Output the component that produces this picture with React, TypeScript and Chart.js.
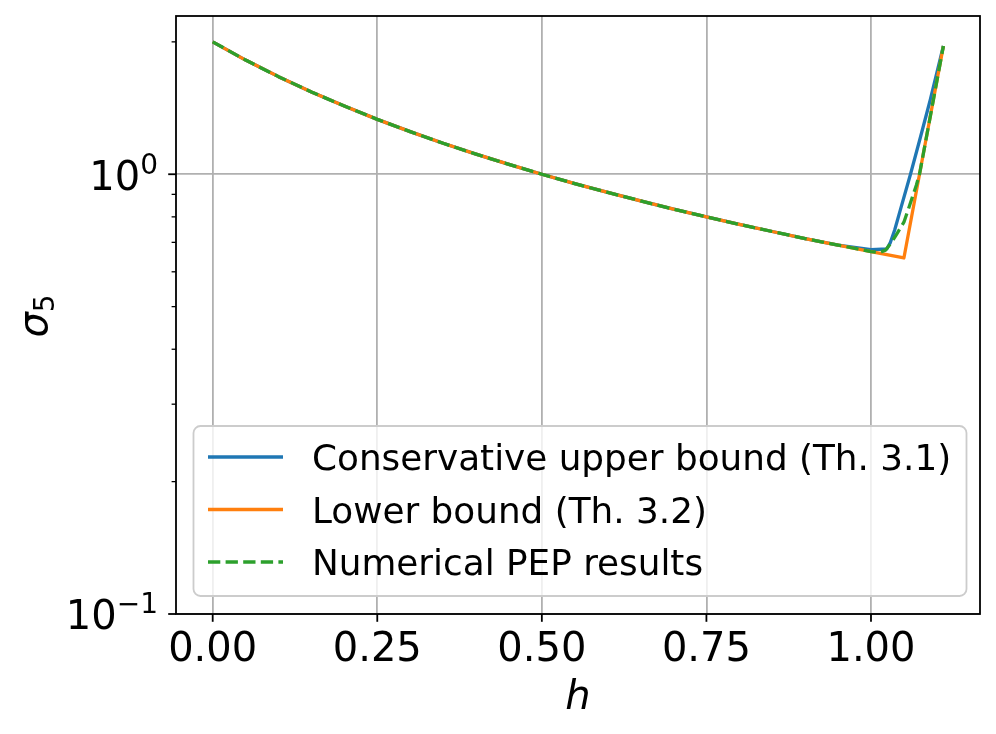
import React, { useEffect, useRef } from "react";
import { Chart, registerables } from "chart.js";

Chart.register(...registerables);

const FONT = '"DejaVu Sans", "Liberation Sans", sans-serif';

// ---- data ----
const hUpper = [0, 0.05, 0.1, 0.15, 0.2, 0.25, 0.3, 0.35, 0.4, 0.45, 0.5, 0.55, 0.6, 0.65, 0.7, 0.75, 0.8, 0.85, 0.9, 0.95, 1.0, 1.024, 1.029, 1.036, 1.046, 1.06, 1.075, 1.09, 1.11];
const sigmaUpper = [2.0, 1.818, 1.667, 1.538, 1.429, 1.333, 1.25, 1.176, 1.111, 1.053, 1.0, 0.952, 0.909, 0.87, 0.833, 0.8, 0.769, 0.741, 0.714, 0.69, 0.674, 0.676, 0.697, 0.747, 0.844, 1.0, 1.212, 1.475, 1.957];

const hLower = [0, 0.05, 0.1, 0.15, 0.2, 0.25, 0.3, 0.35, 0.4, 0.45, 0.5, 0.55, 0.6, 0.65, 0.7, 0.75, 0.8, 0.85, 0.9, 0.95, 1.0, 1.05, 1.11];
const sigmaLower = [2.0, 1.818, 1.667, 1.538, 1.429, 1.333, 1.25, 1.176, 1.111, 1.053, 1.0, 0.952, 0.909, 0.87, 0.833, 0.8, 0.769, 0.741, 0.714, 0.69, 0.667, 0.645, 1.957];

const hPep = [0, 0.05, 0.1, 0.15, 0.2, 0.25, 0.3, 0.35, 0.4, 0.45, 0.5, 0.55, 0.6, 0.65, 0.7, 0.75, 0.8, 0.85, 0.9, 0.95, 1.0, 1.013, 1.022, 1.032, 1.04, 1.05, 1.059, 1.069, 1.074, 1.09, 1.11];
const sigmaPep = [2.0, 1.818, 1.667, 1.538, 1.429, 1.333, 1.25, 1.176, 1.111, 1.053, 1.0, 0.952, 0.909, 0.87, 0.833, 0.8, 0.769, 0.741, 0.714, 0.69, 0.667, 0.664, 0.672, 0.703, 0.735, 0.778, 0.852, 0.945, 1.005, 1.351, 1.957];

const seriesLabels = ["Conservative upper bound (Th. 3.1)", "Lower bound (Th. 3.2)", "Numerical PEP results"];
const seriesColors = ["#1f77b4", "#ff7f0e", "#2ca02c"];

const xTicks = [0, 0.25, 0.5, 0.75, 1.0];
const xTickLabels = ["0.00", "0.25", "0.50", "0.75", "1.00"];
const yMajorTicks = [0.1, 1];
const yMajorBase = ["10", "10"];
const yMajorExp = ["\u22121", "0"];
const yMinorTicks = [0.2, 0.3, 0.4, 0.5, 0.6, 0.7, 0.8, 0.9, 2];
const xTitle = "h";
const yTitleMain = "\u03c3";
const yTitleSub = "5";

const X_MIN = -0.05575;
const X_MAX = 1.1656;
const Y_MIN = 0.1;
const Y_MAX = 2.29;

const toPoints = (xs: number[], ys: number[]) => xs.map((x, i) => ({ x, y: ys[i] }));

const LW = 3.3;
const GRID_LW = 1.8;

const overlayPlugin = {
  id: "mplOverlay",
  afterDraw(chart: any) {
    const ctx: CanvasRenderingContext2D = chart.ctx;
    const { left, right, top, bottom } = chart.chartArea;
    const xs = chart.scales.x;
    const ys = chart.scales.y;
    ctx.save();
    ctx.setLineDash([]);

    // frame
    ctx.strokeStyle = "#000";
    ctx.lineWidth = GRID_LW;
    ctx.strokeRect(left, top, right - left, bottom - top);

    // x ticks + labels
    ctx.fillStyle = "#000";
    ctx.font = `40px ${FONT}`;
    ctx.textAlign = "center";
    ctx.textBaseline = "alphabetic";
    xTicks.forEach((v, i) => {
      const px = xs.getPixelForValue(v);
      ctx.beginPath();
      ctx.moveTo(px, bottom);
      ctx.lineTo(px, bottom + 7.8);
      ctx.lineWidth = GRID_LW;
      ctx.stroke();
      ctx.fillText(xTickLabels[i], px, bottom + 47);
    });

    // y minor ticks
    yMinorTicks.forEach((v) => {
      const py = ys.getPixelForValue(v);
      ctx.beginPath();
      ctx.moveTo(left, py);
      ctx.lineTo(left - 4.4, py);
      ctx.lineWidth = 1.3;
      ctx.stroke();
    });
    // y major ticks + labels
    ctx.textAlign = "left";
    yMajorTicks.forEach((v, i) => {
      const py = ys.getPixelForValue(v);
      ctx.beginPath();
      ctx.moveTo(left, py);
      ctx.lineTo(left - 7.8, py);
      ctx.lineWidth = GRID_LW;
      ctx.stroke();
      ctx.font = `40px ${FONT}`;
      const wb = ctx.measureText(yMajorBase[i]).width;
      ctx.font = `28px ${FONT}`;
      const we = ctx.measureText(yMajorExp[i]).width;
      const x0 = 158 - wb - we;
      const base = py + 15.3;
      ctx.font = `40px ${FONT}`;
      ctx.fillText(yMajorBase[i], x0, base);
      ctx.font = `28px ${FONT}`;
      ctx.fillText(yMajorExp[i], x0 + wb, base - 16);
    });

    // x title
    ctx.font = `italic 40px ${FONT}`;
    ctx.textAlign = "center";
    ctx.fillText(xTitle, (left + right) / 2, 709);

    // y title (rotated)
    ctx.save();
    ctx.translate(47, (top + bottom) / 2 + 1);
    ctx.rotate(-Math.PI / 2);
    ctx.textAlign = "left";
    ctx.font = `italic 40px ${FONT}`;
    const ws = ctx.measureText(yTitleMain).width;
    ctx.font = `28px ${FONT}`;
    const w5 = ctx.measureText(yTitleSub).width;
    const sx = -(ws + w5) / 2;
    ctx.font = `italic 40px ${FONT}`;
    ctx.fillText(yTitleMain, sx, 0);
    ctx.font = `28px ${FONT}`;
    ctx.fillText(yTitleSub, sx + ws, 6.6);
    ctx.restore();

    // legend
    const bx = 193.5, by = 426, bw = 773, bh = 170, r = 7;
    ctx.beginPath();
    ctx.moveTo(bx + r, by);
    ctx.lineTo(bx + bw - r, by);
    ctx.arcTo(bx + bw, by, bx + bw, by + r, r);
    ctx.lineTo(bx + bw, by + bh - r);
    ctx.arcTo(bx + bw, by + bh, bx + bw - r, by + bh, r);
    ctx.lineTo(bx + r, by + bh);
    ctx.arcTo(bx, by + bh, bx, by + bh - r, r);
    ctx.lineTo(bx, by + r);
    ctx.arcTo(bx, by, bx + r, by, r);
    ctx.closePath();
    ctx.fillStyle = "rgba(255,255,255,0.8)";
    ctx.fill();
    ctx.strokeStyle = "#cccccc";
    ctx.lineWidth = GRID_LW;
    ctx.stroke();

    const rows = [457, 509.5, 562];
    chart.data.datasets.forEach((ds: any, i: number) => {
      const ry = rows[i];
      ctx.beginPath();
      ctx.strokeStyle = ds.borderColor;
      ctx.lineWidth = LW;
      ctx.lineCap = "butt";
      ctx.setLineDash(ds.borderDash || []);
      ctx.moveTo(208, ry);
      ctx.lineTo(283, ry);
      ctx.stroke();
      ctx.setLineDash([]);
      ctx.fillStyle = "#000";
      ctx.font = `35.8px ${FONT}`;
      ctx.textAlign = "left";
      ctx.fillText(ds.label, 312, ry + 13.3);
    });

    ctx.restore();
  },
};

export default function App() {
  const ref = useRef<HTMLCanvasElement | null>(null);

  useEffect(() => {
    if (!ref.current) return;
    const chart = new Chart(ref.current, {
      type: "line",
      data: {
        datasets: [
          {
            label: seriesLabels[0],
            data: toPoints(hUpper, sigmaUpper),
            borderColor: seriesColors[0],
            borderWidth: LW,
            pointRadius: 0,
            tension: 0,
            borderJoinStyle: "round",
            fill: false,
            order: 3,
          },
          {
            label: seriesLabels[1],
            data: toPoints(hLower, sigmaLower),
            borderColor: seriesColors[1],
            borderWidth: LW,
            pointRadius: 0,
            tension: 0,
            borderJoinStyle: "round",
            fill: false,
            order: 2,
          },
          {
            label: seriesLabels[2],
            data: toPoints(hPep, sigmaPep),
            borderColor: seriesColors[2],
            borderWidth: LW,
            borderDash: [12.3, 5.3],
            pointRadius: 0,
            tension: 0,
            borderJoinStyle: "round",
            fill: false,
            order: 1,
          },
        ],
      },
      options: {
        animation: false,
        responsive: false,
        maintainAspectRatio: false,
        layout: { padding: { left: 0, top: 16, right: 16, bottom: 0 } },
        plugins: {
          legend: { display: false },
          tooltip: { enabled: false },
        },
        scales: {
          x: {
            type: "linear",
            min: X_MIN,
            max: X_MAX,
            afterBuildTicks: (scale: any) => {
              scale.ticks = xTicks.map((v) => ({ value: v }));
            },
            afterFit: (scale: any) => {
              scale.height = 120;
            },
            ticks: { display: false },
            border: { display: false },
            grid: { color: "#b0b0b0", lineWidth: GRID_LW, drawTicks: false },
          },
          y: {
            type: "logarithmic",
            min: Y_MIN,
            max: Y_MAX,
            afterBuildTicks: (scale: any) => {
              scale.ticks = yMajorTicks.map((v) => ({ value: v, major: true }));
            },
            afterFit: (scale: any) => {
              scale.width = 176;
            },
            ticks: { display: false },
            border: { display: false },
            grid: { color: "#b0b0b0", lineWidth: GRID_LW, drawTicks: false },
          },
        },
      },
      plugins: [overlayPlugin],
    } as any);
    return () => chart.destroy();
  }, []);

  return (
    <div style={{ position: "absolute", left: 0, top: 0, width: 996, height: 734, background: "#fff" }}>
      <canvas ref={ref} width={996} height={734} style={{ display: "block", width: 996, height: 734 }} />
    </div>
  );
}
